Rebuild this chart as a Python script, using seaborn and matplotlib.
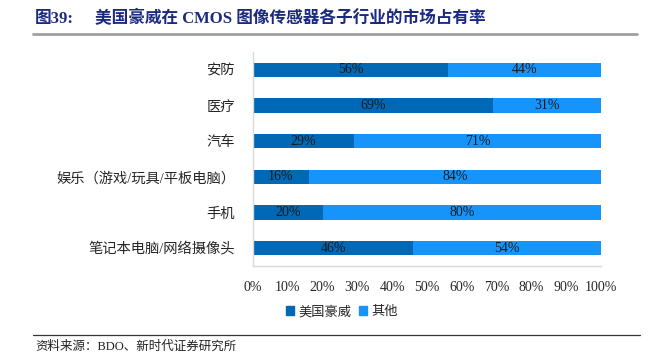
import matplotlib
matplotlib.use("Agg")
import matplotlib.pyplot as plt
import seaborn as sns
import pandas as pd
from matplotlib.lines import Line2D
from matplotlib.patches import Patch

# ── data ─────────────────────────────────────────────────────────────────────
categories = ["安防", "医疗", "汽车", "娱乐（游戏/玩具/平板电脑）", "手机", "笔记本电脑/网络摄像头"]
omnivision = [56, 69, 29, 16, 20, 46]
others     = [44, 31, 71, 84, 80, 54]
x_ticks    = [0, 10, 20, 30, 40, 50, 60, 70, 80, 90, 100]
series     = ["美国豪威", "其他"]

DARK  = "#0068B4"
LIGHT = "#1794F9"
FONTS = ["Liberation Serif", "Noto Sans CJK SC"]

sns.set_style("white")
plt.rcParams["font.family"] = FONTS

df = pd.DataFrame({"cat": categories, "ov": omnivision, "oth": others})
df["total"] = df["ov"] + df["oth"]

fig = plt.figure(figsize=(6.58, 3.54), dpi=100)
ax = fig.add_axes([253 / 658, 1 - 266 / 354, (601 - 253) / 658, (266 - 52) / 354])

sns.barplot(data=df, x="total", y="cat", color=LIGHT, orient="h", width=0.4,
            saturation=1, linewidth=0, ax=ax)
sns.barplot(data=df, x="ov", y="cat", color=DARK, orient="h", width=0.4,
            saturation=1, linewidth=0, ax=ax)

# segment labels
for i, (a, b) in enumerate(zip(df["ov"], df["oth"])):
    ax.text(a / 2, i, f"{a}%", ha="center", va="center", fontsize=10, color="#1a1a1a")
    ax.text(a + b / 2, i, f"{b}%", ha="center", va="center", fontsize=10, color="#1a1a1a")

ax.set_xlim(0, 100)
ax.set_ylim(5.5, -0.5)
ax.set_xticks(x_ticks)
ax.set_xticklabels([f"{t}%" for t in x_ticks], fontsize=10)
ax.tick_params(axis="x", direction="in", length=3, color="#d9d9d9", pad=11)
ax.tick_params(axis="y", length=0, pad=13, labelsize=10.3)
ax.set_xlabel("")
ax.set_ylabel("")
for s in ["top", "right"]:
    ax.spines[s].set_visible(False)
for s in ["left", "bottom"]:
    ax.spines[s].set_color("#d9d9d9")
    ax.spines[s].set_linewidth(1)

# legend
handles = [Patch(color=DARK), Patch(color=LIGHT)]
fig.legend(handles, series, loc="center", bbox_to_anchor=(342 / 658, 1 - 312 / 354),
           ncol=2, frameon=False, fontsize=9.5, handlelength=0.6, handleheight=0.6,
           handletextpad=0.3, columnspacing=0.6)

# title and rules
fig.text(35 / 658, 1 - 19 / 354, "图39:", fontsize=12, fontweight="bold",
         color="#1B2A80", va="center", ha="left")
fig.text(95 / 658, 1 - 19 / 354, "美国豪威在 CMOS 图像传感器各子行业的市场占有率",
         fontsize=12, fontweight="bold", color="#1B2A80", va="center", ha="left")
fig.add_artist(Line2D([33 / 658, 637 / 658], [1 - 34 / 354] * 2, color="#a0a0a0", lw=2))
fig.add_artist(Line2D([33 / 658, 640 / 658], [1 - 335 / 354] * 2, color="#333333", lw=0.9))
fig.text(35 / 658, 1 - 347 / 354, "资料来源：BDO、新时代证券研究所", fontsize=9,
         color="#222222", va="center", ha="left")

fig.savefig("out.png", dpi=100)
